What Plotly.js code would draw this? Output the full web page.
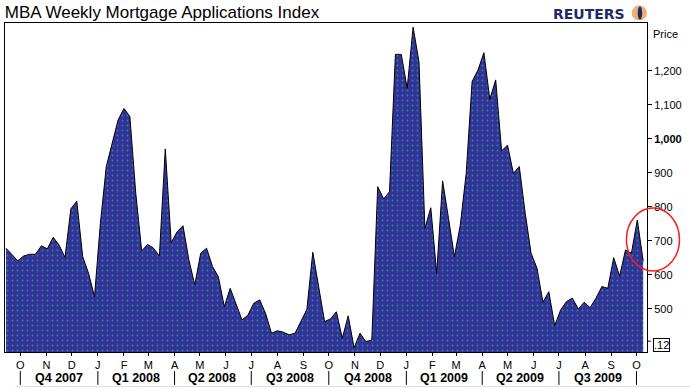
<!DOCTYPE html>
<html>
<head>
<meta charset="utf-8">
<script src="https://cdn.plot.ly/plotly-3.0.1.min.js"></script>
<style>
  html, body { margin: 0; padding: 0; background: #ffffff; }
  #chart { width: 690px; height: 388px; }
</style>
</head>
<body>
<div id="chart"></div>
<script>
// Weekly index values (week ending Fridays), Sep 14 2007 .. Oct 9 2009
const firstWeek = '2007-09-14';
const indexValues = [
  678, 660, 641, 655, 660, 660, 685, 676, 710, 687,
  651, 794, 816, 653, 604, 535, 751, 918, 986, 1055,
  1089, 1065, 839, 670, 689, 678, 655, 970, 694, 726,
  744, 643, 570, 663, 678, 624, 594, 506, 560, 511,
  467, 481, 516, 526, 486, 428, 435, 431, 423, 428,
  462, 498, 666, 565, 462, 470, 491, 413, 479, 385,
  428, 403, 408, 859, 823, 844, 1248, 1248, 1148, 1328,
  1226, 736, 797, 604, 876, 766, 653, 746, 898, 1168,
  1202, 1253, 1116, 1173, 964, 981, 898, 918, 781, 663,
  619, 519, 550, 450, 496, 521, 531, 499, 519, 503,
  531, 565, 560, 650, 596, 673, 663, 761, 640
];

const monthStarts = [
  '2007-10-01','2007-11-01','2007-12-01','2008-01-01','2008-02-01','2008-03-01',
  '2008-04-01','2008-05-01','2008-06-01','2008-07-01','2008-08-01','2008-09-01',
  '2008-10-01','2008-11-01','2008-12-01','2009-01-01','2009-02-01','2009-03-01',
  '2009-04-01','2009-05-01','2009-06-01','2009-07-01','2009-08-01','2009-09-01',
  '2009-10-01'
];
const monthLetters = ['O','N','D','J','F','M','A','M','J','J','A','S','O','N','D','J','F','M','A','M','J','J','A','S','O'];

const quarterStarts = ['2007-10-01','2008-01-01','2008-04-01','2008-07-01','2008-10-01','2009-01-01','2009-04-01','2009-07-01','2009-10-01'];
const quarterLabels = ['Q4 2007','Q1 2008','Q2 2008','Q3 2008','Q4 2008','Q1 2009','Q2 2009','Q3 2009'];

const yTickVals = [500, 600, 700, 800, 900, 1000, 1100, 1200];
const yTickText = ['500','600','700','800','900','<b>1,000</b>','1,100','1,200'];

// weekly dates
function addDays(iso, n) {
  const d = new Date(iso + 'T00:00:00Z');
  d.setUTCDate(d.getUTCDate() + n);
  return d.toISOString().slice(0, 10);
}
const weekDates = indexValues.map((_, i) => addDays(firstWeek, 7 * i));

function midDate(a, b) {
  const ta = Date.parse(a + 'T00:00:00Z'), tb = Date.parse(b + 'T00:00:00Z');
  return new Date((ta + tb) / 2).toISOString().slice(0, 10);
}

const FONT = 'Liberation Sans, Arial, sans-serif';

const trace = {
  type: 'scatter',
  mode: 'lines',
  x: weekDates,
  y: indexValues,
  line: { color: '#000000', width: 1, shape: 'linear' },
  fill: 'tozeroy',
  fillcolor: '#313398',
  fillpattern: { shape: '.', size: 5, solidity: 0.1, fgcolor: '#3a8595', bgcolor: '#313398', fillmode: 'replace' },
  hoverinfo: 'x+y'
};

const annotations = [];
for (let i = 0; i < quarterLabels.length; i++) {
  annotations.push({
    xref: 'x', yref: 'paper',
    x: midDate(quarterStarts[i], quarterStarts[i + 1]),
    y: -0.079, yanchor: 'middle', xanchor: 'center',
    text: '<b>' + quarterLabels[i] + '</b>',
    showarrow: false,
    font: { family: FONT, size: 12.5, color: '#000000' }
  });
}
annotations.push({
  xref: 'paper', yref: 'paper', x: 1.007, y: 0.966, xanchor: 'left', yanchor: 'middle',
  text: 'Price', showarrow: false, font: { family: FONT, size: 11, color: '#000000' }
});
annotations.push({
  xref: 'paper', yref: 'paper', x: 1.0095, y: 0.0198, xanchor: 'left', yanchor: 'middle',
  text: '.12', showarrow: false, bordercolor: '#000000', borderwidth: 1, borderpad: 0,
  font: { family: FONT, size: 11, color: '#000000' }
});
annotations.push({
  xref: 'paper', yref: 'paper', x: 0.8505, y: 1.0274, xanchor: 'left', yanchor: 'middle',
  text: '<b>REUTERS</b>', showarrow: false,
  font: { family: 'DejaVu Sans, sans-serif', size: 14, color: '#1c2a6e' }
});

const shapes = [];
for (let i = 0; i < quarterStarts.length; i++) {
  shapes.push({
    type: 'line', xref: 'x', yref: 'paper',
    x0: quarterStarts[i], x1: quarterStarts[i], y0: -0.058, y1: -0.100,
    line: { color: '#000000', width: 1 }
  });
}
// faint bottom rule
shapes.push({ type: 'line', xref: 'paper', yref: 'paper', x0: 0.016, x1: 1.07, y0: -0.105, y1: -0.105,
  line: { color: '#e4e1d6', width: 1 } });
// small tick near ".12" box
shapes.push({ type: 'line', xref: 'paper', yref: 'paper', x0: 1.0, x1: 1.006, y0: 0.033, y1: 0.033,
  line: { color: '#000000', width: 1 } });
// red highlight ellipse
shapes.push({ type: 'circle', xref: 'paper', yref: 'paper', x0: 0.968, x1: 1.0506, y0: 0.2462, y1: 0.4377,
  line: { color: '#ff1a1a', width: 1.5 } });
// Reuters globe
shapes.push({ type: 'circle', xref: 'paper', yref: 'paper', x0: 0.976, x1: 1.0, y0: 1.008, y1: 1.053,
  fillcolor: '#f0b070', line: { width: 0 } });
shapes.push({ type: 'circle', xref: 'paper', yref: 'paper', x0: 0.9855, x1: 0.9925, y0: 1.010, y1: 1.051,
  fillcolor: '#1c2a6e', line: { width: 0 } });

const layout = {
  width: 690, height: 388,
  margin: { l: 5, r: 43, t: 23, b: 36, pad: 0 },
  paper_bgcolor: '#ffffff', plot_bgcolor: '#ffffff',
  showlegend: false,
  title: {
    text: 'MBA Weekly Mortgage Applications Index',
    x: 0.007, xanchor: 'left', xref: 'container',
    y: 0.968, yanchor: 'middle', yref: 'container',
    font: { family: FONT, size: 17, color: '#000000' }
  },
  xaxis: {
    type: 'date',
    range: ['2007-09-12 20:00', '2009-10-13 12:00'],
    showgrid: false, zeroline: false,
    showline: true, mirror: true, linecolor: '#000000', linewidth: 1,
    tickmode: 'array', tickvals: monthStarts, ticktext: monthLetters,
    ticks: 'outside', ticklen: 3, tickcolor: '#000000', tickwidth: 1,
    tickfont: { family: FONT, size: 11, color: '#000000' },
    fixedrange: true
  },
  yaxis: {
    side: 'right',
    range: [372.6, 1340.3],
    showgrid: false, zeroline: false,
    showline: true, mirror: true, linecolor: '#000000', linewidth: 1,
    tickmode: 'array', tickvals: yTickVals, ticktext: yTickText,
    ticks: 'outside', ticklen: 4, tickcolor: '#000000', tickwidth: 1,
    tickfont: { family: FONT, size: 11, color: '#000000' },
    fixedrange: true
  },
  annotations: annotations,
  shapes: shapes
};

Plotly.newPlot('chart', [trace], layout, { displayModeBar: false, staticPlot: true });
</script>
</body>
</html>
